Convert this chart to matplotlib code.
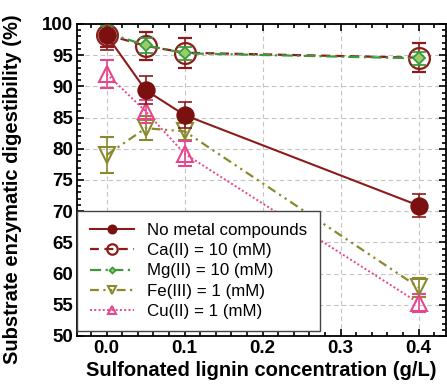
import matplotlib
matplotlib.use("Agg")
import matplotlib.pyplot as plt
from matplotlib.lines import Line2D
from matplotlib.ticker import MultipleLocator

# Sulfonated lignin concentration (g/L)
x = [0.0, 0.05, 0.1, 0.4]

no_metal = [98.2, 89.4, 85.4, 70.9]
no_metal_err = [2.4, 2.2, 2.1, 1.8]
ca = [98.3, 96.5, 95.4, 94.6]
ca_err = [2.0, 2.2, 2.4, 2.3]
mg = [98.6, 96.6, 95.3, 94.5]
mg_err = [1.0, 1.2, 1.0, 1.0]
fe = [79.0, 83.3, 82.8, 57.8]
fe_err = [2.9, 1.9, 1.4, 1.5]
cu = [92.0, 86.0, 79.2, 55.3]
cu_err = [2.2, 1.9, 2.0, 1.5]

labels = ["No metal compounds", "Ca(II) = 10 (mM)", "Mg(II) = 10 (mM)",
          "Fe(III) = 1 (mM)", "Cu(II) = 1 (mM)"]

RED = "#8c1c1c"
GREEN = "#3c9a3c"
OLIVE = "#8a8a2c"
PINK = "#e8468c"

plt.rcParams["font.family"] = ["Liberation Sans", "DejaVu Sans"]

fig = plt.figure(figsize=(4.47, 3.85), dpi=100)
ax = fig.add_axes([77 / 447, 49 / 385, 369 / 447, 312 / 385])

styles = [
    dict(color=RED, ls="-", lw=1.5, marker="o", ms=12, mfc="#7a1010", mec="#7a1010", mew=1.2),
    dict(color=RED, ls=(0, (4, 2.5)), lw=1.6, marker="o", ms=15, mfc="none", mew=1.6),
    dict(color=GREEN, ls=(0, (5, 2, 1, 2)), lw=1.6, marker="D", ms=6, mfc="#9acd6a", mew=1.3),
    dict(color=OLIVE, ls=(0, (4, 2, 1, 2, 1, 2)), lw=1.6, marker="v", ms=11, mfc="none", mew=1.5),
    dict(color=PINK, ls=(0, (1, 1.2)), lw=1.4, marker="^", ms=11, mfc="none", mew=1.5),
]
series = [(no_metal, no_metal_err, 5), (ca, ca_err, 3), (mg, mg_err, 4),
          (fe, fe_err, 3), (cu, cu_err, 3)]

ekw = dict(capsize=5, capthick=1.2, elinewidth=1.2)
for (y, err, z), st in zip(series, styles):
    ax.errorbar(x, y, yerr=err, zorder=z, **st, **ekw)

ax.set_xlim(-0.038, 0.435)
ax.set_ylim(50, 100)
ax.set_xticks([0.0, 0.1, 0.2, 0.3, 0.4])
ax.set_xticklabels(["0.0", "0.1", "0.2", "0.3", "0.4"])
ax.xaxis.set_minor_locator(MultipleLocator(0.02))
ax.yaxis.set_major_locator(MultipleLocator(5))
ax.yaxis.set_minor_locator(MultipleLocator(1))
ax.tick_params(which="both", direction="in", top=True, right=True, width=1.2)
ax.tick_params(which="major", length=5, labelsize=13.5, pad=3)
ax.tick_params(which="minor", length=3)
for lab in ax.get_xticklabels() + ax.get_yticklabels():
    lab.set_fontweight("bold")
for s in ax.spines.values():
    s.set_linewidth(1.3)

ax.grid(True, which="major", ls=(0, (4, 3)), color="#c4c4c4", lw=0.8)

ax.set_xlabel("Sulfonated lignin concentration (g/L)", fontsize=14.5, fontweight="bold", labelpad=3)
ax.set_ylabel("Substrate enzymatic digestibility (%)", fontsize=14.5, fontweight="bold")
ax.yaxis.set_label_coords(-0.148, 0.47)

handles = []
for st in styles:
    d = dict(st)
    d["ms"] = d["ms"] * 0.5
    handles.append(Line2D([], [], **d))
leg = ax.legend(handles, labels, loc="lower left", bbox_to_anchor=(0.0, 0.015),
                borderaxespad=0, fontsize=12.2, frameon=True, fancybox=False,
                edgecolor="#444444", handlelength=2.6, handletextpad=0.8,
                borderpad=0.75, labelspacing=0.3, framealpha=1)
leg.get_frame().set_linewidth(1.0)

fig.savefig("out.png", dpi=100)
